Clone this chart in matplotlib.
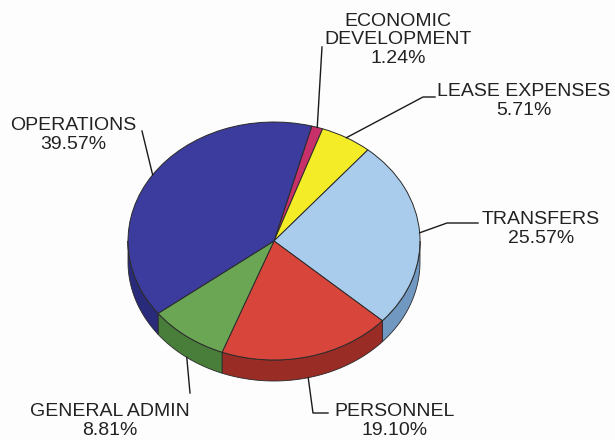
import numpy as np
import matplotlib.pyplot as plt
from matplotlib.patches import Polygon

plt.rcParams['font.family'] = ['Liberation Sans', 'DejaVu Sans']

# data
categories = ['ECONOMIC\nDEVELOPMENT', 'LEASE EXPENSES', 'TRANSFERS',
              'PERSONNEL', 'GENERAL ADMIN', 'OPERATIONS']
shares = [1.24, 5.71, 25.57, 19.10, 8.81, 39.57]

top_colors = ['#c8306a', '#f5ec28', '#a9cbec', '#d8463b', '#6aa653', '#3b3c9d']
side_colors = ['#8e1f4a', '#b8b01c', '#7098c0', '#9a2c26', '#487e3a', '#2a2a7a']

# layout in pixels (figure 615x440, origin top-left)
W, H = 615, 440
CX, CY, RX, RY = 274, 241, 146, 119
DEPTH = 21

# label centre, leader polyline end points (pixels), anchor on side wall?
label_pos = [(398, 40), (524, 101), (541, 229), (395, 421), (110, 421), (73, 135)]
leader_pts = [[(322, 47)],
              [(423, 97), (435, 97)],
              [(447, 223), (478, 223)],
              [(313, 413), (328, 413)],
              [(190, 393)],
              [(142, 131)]]
on_side = [False, False, False, True, True, False]


def px(x, y):
    return (x - CX) / RX, (CY - y) / RY


fig = plt.figure(figsize=(W / 100, H / 100), dpi=100)
fig.patch.set_facecolor('#fdfdfd')
ax = fig.add_axes([0, 0, 1, 1])

wedges, _ = ax.pie(shares, colors=top_colors, startangle=75, counterclock=False,
                   wedgeprops=dict(edgecolor='#2a2a2a', linewidth=0.7))
for w in wedges:
    w.set_zorder(3)

ax.set_aspect('auto')
ax.set_xlim(-CX / RX, (W - CX) / RX)
ax.set_ylim(-(H - CY) / RY, CY / RY)
ax.axis('off')

d = DEPTH / RY
# side walls of the front half
for w, sc in zip(wedges, side_colors):
    t1, t2 = w.theta1, w.theta2
    while t2 > 360:
        t1 -= 360
        t2 -= 360
    lo, hi = max(t1, -180), min(t2, 0)
    if hi <= lo:
        continue
    t = np.radians(np.linspace(lo, hi, 80))
    top = np.column_stack([np.cos(t), np.sin(t)])
    bot = np.column_stack([np.cos(t[::-1]), np.sin(t[::-1]) - d])
    ax.add_patch(Polygon(np.vstack([top, bot]), closed=True, facecolor=sc,
                         edgecolor='#2a2a2a', linewidth=0.6, zorder=2))

# labels and leader lines
for i, w in enumerate(wedges):
    mid = np.radians((w.theta1 + w.theta2) / 2)
    ax0 = (np.cos(mid), np.sin(mid) - (d if on_side[i] else 0))
    pts = [ax0] + [px(*p) for p in leader_pts[i]]
    xs, ys = zip(*pts)
    ax.plot(xs, ys, color='#1a1a1a', linewidth=1.0, zorder=4)
    ax.text(*px(*label_pos[i]), '%s\n%.2f%%' % (categories[i], shares[i]),
            ha='center', va='center', fontsize=14, color='#222222',
            linespacing=1.1, zorder=5)

plt.savefig('out.png', dpi=100, facecolor=fig.get_facecolor())
